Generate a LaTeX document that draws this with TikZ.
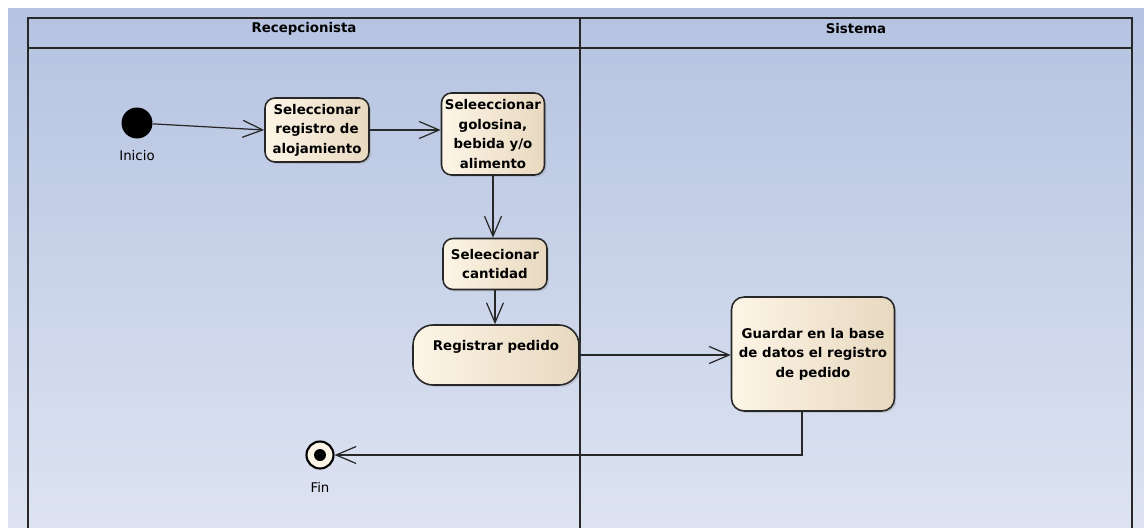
\documentclass[tikz,border=0pt]{standalone}
\usepackage{fontspec}
\setmainfont{DejaVu Sans}
\usetikzlibrary{arrows.meta,shadows}
\definecolor{fondoarriba}{RGB}{181,195,225}
\definecolor{fondoabajo}{RGB}{221,227,241}
\definecolor{crema}{RGB}{253,245,230}
\definecolor{tostado}{RGB}{232,216,192}
\definecolor{borde}{RGB}{40,40,40}
\begin{document}
\begin{tikzpicture}[x=0.02cm,y=-0.02cm,
    accion/.style={draw=borde,line width=0.9pt,rounded corners=0.2cm,left color=crema,right color=tostado,
        align=center,inner sep=0pt,font=\fontsize{7.6}{11.1}\selectfont\bfseries,
        drop shadow={opacity=0.25,shadow xshift=0.04cm,shadow yshift=-0.04cm}},
    flujo/.style={draw=borde,line width=0.7pt,-{Straight Barb[length=0.4cm,width=0.34cm]}},
    carril/.style={draw=borde,line width=1pt},
    titulo/.style={font=\fontsize{7.6}{9}\selectfont\bfseries},
    etiqueta/.style={font=\fontsize{7.6}{9}\selectfont}]
    \useasboundingbox (0,0) rectangle (1144,528);
    \fill[top color=fondoarriba,bottom color=fondoabajo] (8,8) rectangle (1144,528); %fondo

    \draw[carril] (28,528) -- (28,18) -- (1132,18) -- (1132,528); %marco
    \draw[carril] (28,48) -- (1132,48); %cabecera
    \draw[carril] (580,18) -- (580,528); %division carriles
    \node[titulo] (rec) at (304,29) {Recepcionista};
    \node[titulo] (sis) at (856,29) {Sistema};

    \node[circle,fill=black,minimum size=0.62cm,inner sep=0pt] (ini) at (137,123) {}; %inicio
    \node[etiqueta] (lblini) at (137,156) {Inicio};

    \node[accion,minimum width=2.08cm,minimum height=1.28cm] (sel) at (317,130) {Seleccionar\\registro de\\alojamiento};
    \node[accion,minimum width=2.06cm,minimum height=1.64cm] (gol) at (493,134) {Seleeccionar\\golosina,\\bebida y/o\\alimento};
    \node[accion,minimum width=2.08cm,minimum height=1.02cm] (cant) at (495,264) {Seleecionar\\cantidad};
    \node[accion,rounded corners=0.4cm,minimum width=3.32cm,minimum height=1.2cm,text depth=0.37cm] (reg) at (496,355) {Registrar pedido};
    \node[accion,rounded corners=0.25cm,minimum width=3.26cm,minimum height=2.28cm] (guard) at (813,354) {Guardar en la base\\de datos el registro\\de pedido};

    \node[circle,draw=black,line width=1.2pt,fill=crema,minimum size=0.54cm,inner sep=0pt,
        path picture={\fill[black] (path picture bounding box.center) circle (0.12cm);}] (fin) at (320,455) {}; %final
    \node[etiqueta] (lblfin) at (320,487) {Fin};

    \draw[flujo] (ini) -- (sel.west);
    \draw[flujo] (sel.east) -- (sel.east -| gol.west);
    \draw[flujo] (gol) -- (gol |- cant.north);
    \draw[flujo] (cant) -- (cant |- reg.north);
    \draw[flujo] (reg.east) -- (reg.east -| guard.west);
    \draw[flujo] ([xshift=-0.22cm]guard.south) |- (fin);
\end{tikzpicture}
\end{document}
